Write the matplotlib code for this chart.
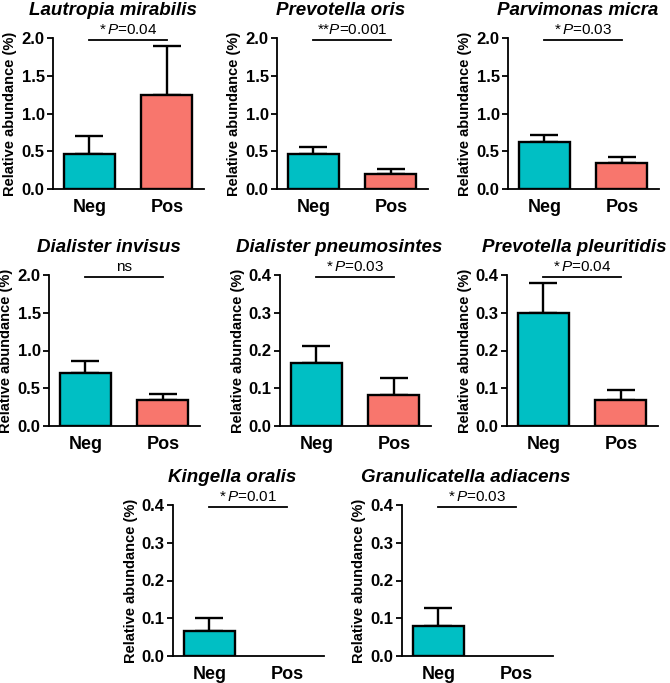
import matplotlib
matplotlib.use("Agg")
import matplotlib.pyplot as plt

plt.rcParams["font.family"] = ["Liberation Sans", "DejaVu Sans"]
plt.rcParams["mathtext.fontset"] = "custom"
plt.rcParams["mathtext.rm"] = "Liberation Sans"
plt.rcParams["mathtext.it"] = "Liberation Sans:italic"

# data
species = ["Lautropia mirabilis", "Prevotella oris", "Parvimonas micra",
           "Dialister invisus", "Dialister pneumosintes", "Prevotella pleuritidis",
           "Kingella oralis", "Granulicatella adiacens"]
groups = ["Neg", "Pos"]
neg_mean = [0.47, 0.47, 0.62, 0.70, 0.167, 0.30, 0.065, 0.080]
neg_err = [0.23, 0.09, 0.09, 0.16, 0.046, 0.08, 0.035, 0.047]
pos_mean = [1.25, 0.20, 0.34, 0.35, 0.083, 0.07, 0.0, 0.0]
pos_err = [0.65, 0.07, 0.08, 0.08, 0.045, 0.025, 0.0, 0.0]
p_labels = ["*$\\,\\mathit{P}$=0.04", "**$\\mathit{P}$=0.001", "*$\\,\\mathit{P}$=0.03",
            "ns", "*$\\,\\mathit{P}$=0.03", "*$\\,\\mathit{P}$=0.04",
            "*$\\,\\mathit{P}$=0.01", "*$\\,\\mathit{P}$=0.03"]
y_max = [2.0, 2.0, 2.0, 2.0, 0.4, 0.4, 0.4, 0.4]
y_step = [0.5, 0.5, 0.5, 0.5, 0.1, 0.1, 0.1, 0.1]

colors = ["#00BFC4", "#F8766D"]

W, H = 670, 683
# axes boxes in pixels: left, top
boxes = [(53, 38), (277, 38), (508, 38),
         (49, 275), (280, 275), (507, 275),
         (173, 505), (402, 505)]
title_dx = [-16, -12, -6, -16, -16, -8, -16, -12]
aw, ah = 151, 151

fig = plt.figure(figsize=(W / 100, H / 100), dpi=100)

for i, name in enumerate(species):
    left, top = boxes[i]
    ax = fig.add_axes([left / W, 1 - (top + ah) / H, aw / W, ah / H])
    x = [0, 1]
    means = [neg_mean[i], pos_mean[i]]
    errs = [neg_err[i], pos_err[i]]
    for j in range(2):
        if means[j] > 0:
            ax.bar(x[j], means[j], width=0.66, color=colors[j], edgecolor="black",
                   linewidth=1.7, zorder=2)
            ax.errorbar(x[j], means[j], yerr=[[0], [errs[j]]], fmt="none",
                        ecolor="black", elinewidth=1.7, capsize=10, capthick=1.7,
                        zorder=1)
    ax.set_xlim(-0.47, 1.48)
    ax.set_ylim(0, y_max[i])
    n = int(round(y_max[i] / y_step[i]))
    ticks = [k * y_step[i] for k in range(n + 1)]
    ax.set_yticks(ticks)
    ax.set_yticklabels([f"{t:.1f}" for t in ticks], fontsize=12, fontweight="bold")
    ax.set_xticks(x)
    ax.set_xticklabels(groups, fontsize=13, fontweight="bold")
    ax.tick_params(axis="x", length=0, pad=7)
    ax.tick_params(axis="y", length=4, width=1.3, pad=2)
    for s in ["top", "right"]:
        ax.spines[s].set_visible(False)
    for s in ["left", "bottom"]:
        ax.spines[s].set_linewidth(1.3)
    ax.set_ylabel("Relative abundance (%)", fontsize=10.5, fontweight="bold", labelpad=3)

    # significance bar
    yl = y_max[i] * 0.985
    ax.plot([0, 1], [yl, yl], color="black", linewidth=1.3, clip_on=False)
    ax.text(0.5, yl + y_max[i] * 0.02, p_labels[i], ha="center", va="bottom",
            fontsize=11)

    cx = (left + aw / 2 + title_dx[i]) / W
    fig.text(cx, 1 - (top - 23) / H, name, ha="center", va="baseline",
             fontsize=13.5, fontweight="bold", fontstyle="italic")

fig.savefig("out.png", dpi=100)
